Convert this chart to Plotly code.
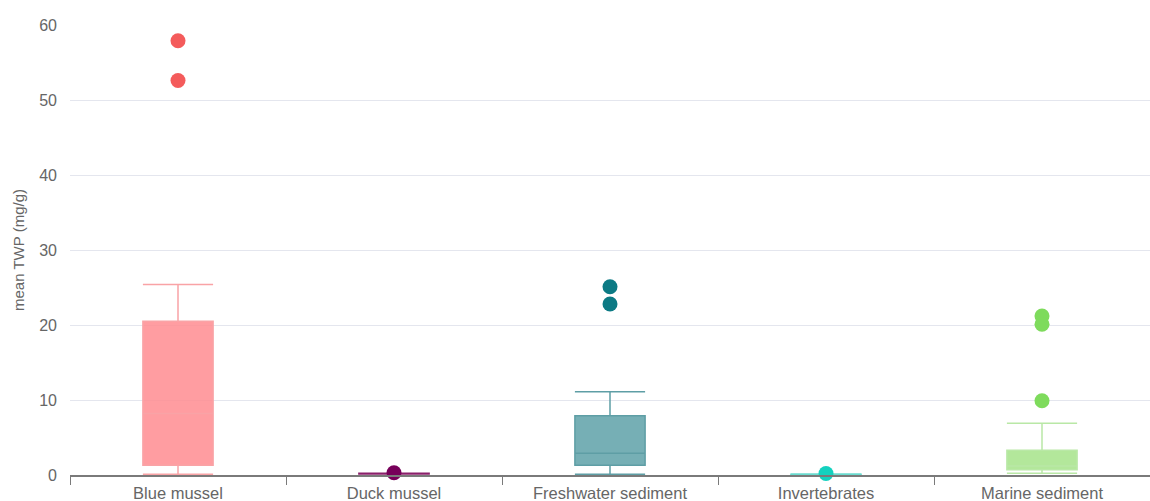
import plotly.graph_objects as go

# Sample groups and their box statistics (mean TWP, mg/g)
categories = ["Blue mussel", "Duck mussel", "Freshwater sediment", "Invertebrates", "Marine sediment"]
lower_fence = [0.1, 0.12, 0.1, 0.05, 0.25]
q1_values = [1.3, 0.14, 1.3, 0.06, 0.7]
median_values = [8.2, 0.18, 2.9, 0.08, 1.2]
q3_values = [20.5, 0.22, 7.9, 0.1, 3.3]
upper_fence = [25.4, 0.25, 11.1, 0.12, 6.9]

# Outlying observations per group
outlier_groups = ["Blue mussel", "Blue mussel", "Duck mussel", "Freshwater sediment",
                  "Freshwater sediment", "Invertebrates", "Marine sediment",
                  "Marine sediment", "Marine sediment"]
outlier_values = [57.9, 52.6, 0.3, 25.1, 22.8, 0.2, 21.2, 20.1, 9.9]

line_colors = ["#f9a3a6", "#8a1f6a", "#5e9ea5", "#6adbcf", "#b9e8a6"]
median_colors = ["#ec8088", "#8a1f6a", "#4a8d95", "#6adbcf", "#9cd985"]
fill_colors = ["rgba(255,140,144,0.85)", "rgba(126,10,90,0.8)", "rgba(80,152,160,0.78)",
               "rgba(30,209,192,0.8)", "rgba(160,225,130,0.8)"]
marker_colors = ["#f45b5b", "#77005a", "#0c7a84", "#14d1bf", "#7edb5c"]

fig = go.Figure()

for i, cat in enumerate(categories):
    fig.add_trace(go.Box(
        x=[cat],
        lowerfence=[lower_fence[i]],
        q1=[q1_values[i]],
        median=[median_values[i]],
        q3=[q3_values[i]],
        upperfence=[upper_fence[i]],
        width=0.325,
        whiskerwidth=1,
        line=dict(color=line_colors[i], width=1.5),
        fillcolor=fill_colors[i],
        boxpoints=False,
        hoverinfo="y",
        showlegend=False,
    ))

for i, cat in enumerate(categories):
    ys = [v for g, v in zip(outlier_groups, outlier_values) if g == cat]
    fig.add_trace(go.Scatter(
        x=[cat] * len(ys),
        y=ys,
        mode="markers",
        marker=dict(color=marker_colors[i], size=15),
        cliponaxis=False,
        showlegend=False,
    ))

fig.update_layout(
    width=1150,
    height=501,
    margin=dict(l=70, r=0, t=25, b=26),
    plot_bgcolor="white",
    paper_bgcolor="white",
    boxmode="overlay",
    font=dict(family="Liberation Sans, Arial, sans-serif", color="#666666"),
    xaxis=dict(
        type="category",
        categoryorder="array",
        categoryarray=categories,
        range=[-0.5, 4.5],
        showline=True,
        linecolor="#7a7a7a",
        linewidth=1.5,
        ticks="outside",
        tickson="boundaries",
        ticklen=8,
        tickcolor="#7a7a7a",
        showgrid=False,
        tickfont=dict(size=16.5, color="#666666"),
        ticklabelstandoff=2,
    ),
    yaxis=dict(
        range=[0, 60],
        tickvals=[0, 10, 20, 30, 40, 50, 60],
        showgrid=True,
        gridcolor="#e4e6ee",
        gridwidth=1,
        zeroline=False,
        showline=False,
        tickfont=dict(size=16, color="#666666"),
        ticklabelstandoff=12,
        title=dict(text="mean TWP (mg/g)", font=dict(size=15, color="#666666"), standoff=10),
    ),
)

fig.write_html("out.html")
